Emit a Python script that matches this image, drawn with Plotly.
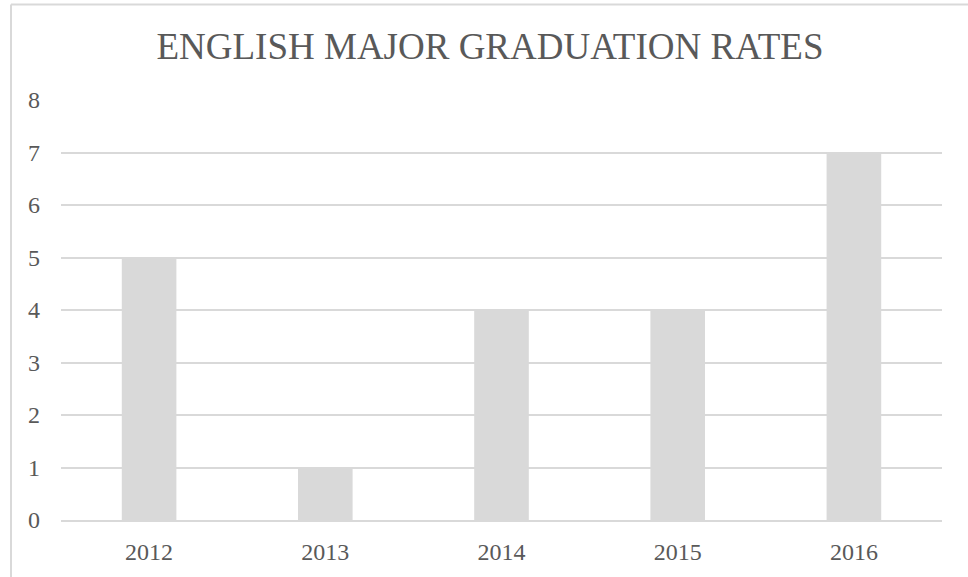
import plotly.graph_objects as go

years = ["2012", "2013", "2014", "2015", "2016"]
graduates = [5, 1, 4, 4, 7]
y_ticks = [0, 1, 2, 3, 4, 5, 6, 7, 8]

GREY = "#d9d9d9"
TEXT = "#595959"
FONT = "Liberation Serif, Times New Roman, serif"

W, H = 968, 577
ML, MR, MT, MB = 61, 26, 100, 55


def px_to_paper_x(px):
    return (px - ML) / (W - ML - MR)


def px_to_paper_y(py):
    return (H - MB - py) / (H - MT - MB)


fig = go.Figure(
    go.Bar(x=years, y=graduates, marker=dict(color=GREY, line=dict(width=0)))
)

fig.update_layout(
    width=W,
    height=H,
    margin=dict(l=ML, r=MR, t=MT, b=MB),
    paper_bgcolor="white",
    plot_bgcolor="white",
    bargap=0.69,
    showlegend=False,
    font=dict(family=FONT, color=TEXT, size=24),
    title=dict(
        text="ENGLISH MAJOR GRADUATION RATES",
        font=dict(family=FONT, size=37, color=TEXT),
        x=px_to_paper_x(490),
        xanchor="center",
        xref="paper",
        y=1 - 46 / H,
        yref="container",
        yanchor="middle",
    ),
    xaxis=dict(
        showgrid=False,
        showline=True,
        linecolor=GREY,
        linewidth=2,
        ticks="",
        ticklabelstandoff=9,
        tickfont=dict(size=24, color=TEXT),
    ),
    yaxis=dict(
        range=[0, 8],
        tickvals=y_ticks,
        showgrid=True,
        gridcolor=GREY,
        gridwidth=1.5,
        zeroline=False,
        showline=False,
        ticks="",
        ticklabelstandoff=20,
        tickfont=dict(size=24, color=TEXT),
    ),
)

# chart frame (cropped at the right and bottom in the original)
frame_top = px_to_paper_y(4)
frame_left = px_to_paper_x(11)
fig.add_shape(type="line", xref="paper", yref="paper",
              x0=frame_left, x1=px_to_paper_x(W + 5), y0=frame_top, y1=frame_top,
              line=dict(color=GREY, width=2))
fig.add_shape(type="line", xref="paper", yref="paper",
              x0=frame_left, x1=frame_left, y0=frame_top, y1=px_to_paper_y(H + 5),
              line=dict(color=GREY, width=2))

# drop the default page margin so the figure sits at the window's corner
fig.write_html("out.html", config={"displayModeBar": False},
               post_script="document.body.style.margin='0';")
